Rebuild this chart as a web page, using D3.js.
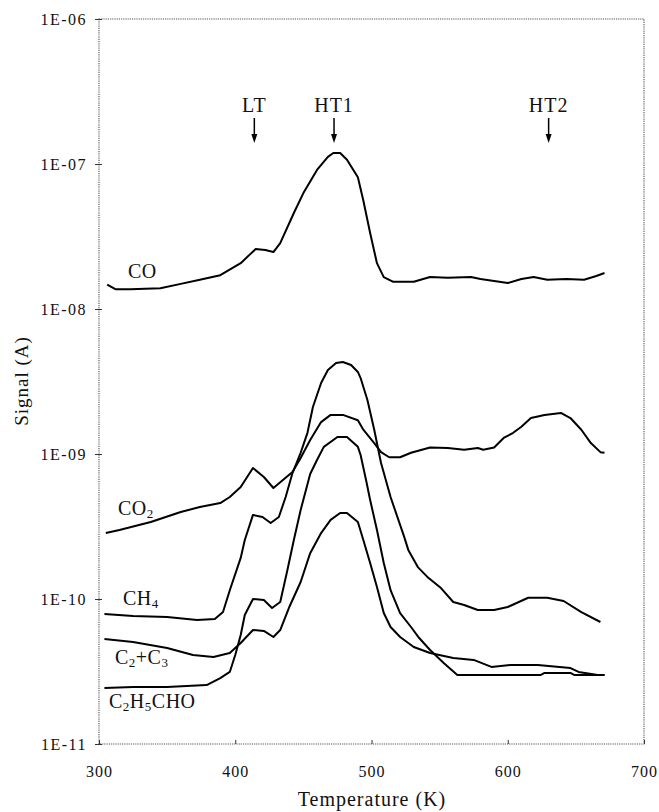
<!DOCTYPE html>
<html>
    <head>
        <title>TPD signals</title>
        <style>
            body { margin: 0; background: #fff; }
            text { font-family: "Liberation Serif", "Times New Roman", serif; fill: #111; }
        </style>
    </head>

    <body>
        <div id="chart"></div>

        <script src="https://cdn.jsdelivr.net/npm/d3@7/dist/d3.min.js"></script>
        <script>
            // temperature (K) / signal (A)
            var coT = [306, 312, 323, 345, 360, 374, 389, 404, 411, 415, 422, 428, 433, 443, 450, 460, 468, 472, 477, 482, 490, 494, 499, 504, 509, 516, 531, 543, 556, 573, 580, 600, 610, 619, 629, 643, 656, 665, 671];
            var coS = [1.47e-8, 1.37e-8, 1.37e-8, 1.39e-8, 1.49e-8, 1.59e-8, 1.71e-8, 2.07e-8, 2.39e-8, 2.59e-8, 2.55e-8, 2.47e-8, 2.85e-8, 4.59e-8, 6.3e-8, 9.1e-8, 1.12e-7, 1.19e-7, 1.19e-7, 1.07e-7, 8.1e-8, 5.6e-8, 3.34e-8, 2.07e-8, 1.66e-8, 1.54e-8, 1.54e-8, 1.66e-8, 1.64e-8, 1.66e-8, 1.61e-8, 1.51e-8, 1.61e-8, 1.66e-8, 1.59e-8, 1.61e-8, 1.59e-8, 1.69e-8, 1.77e-8];

            var co2T = [305, 315, 338, 360, 374, 389, 396, 404, 413, 421, 428, 435, 442, 448, 455, 463, 470, 479, 490, 494, 502, 507, 513, 521, 529, 543, 556, 568, 578, 582, 590, 597, 604, 610, 617, 627, 639, 646, 654, 661, 668, 671];
            var co2S = [2.85e-10, 2.99e-10, 3.4e-10, 3.98e-10, 4.31e-10, 4.59e-10, 5.05e-10, 5.92e-10, 8.0e-10, 6.94e-10, 5.83e-10, 6.62e-10, 7.51e-10, 9.38e-10, 1.25e-9, 1.66e-9, 1.86e-9, 1.86e-9, 1.71e-9, 1.47e-9, 1.19e-9, 1.03e-9, 9.5e-10, 9.5e-10, 1.02e-9, 1.11e-9, 1.10e-9, 1.07e-9, 1.10e-9, 1.07e-9, 1.11e-9, 1.29e-9, 1.40e-9, 1.54e-9, 1.77e-9, 1.86e-9, 1.92e-9, 1.77e-9, 1.47e-9, 1.19e-9, 1.03e-9, 1.02e-9];

            var ch4T = [304, 325, 350, 372, 385, 391, 396, 404, 407, 413, 420, 426, 432, 437, 442, 448, 453, 457, 463, 468, 474, 479, 485, 490, 492, 497, 502, 507, 514, 524, 527, 534, 541, 551, 560, 568, 578, 590, 600, 615, 629, 641, 654, 668];
            var ch4S = [7.88e-11, 7.63e-11, 7.51e-11, 7.16e-11, 7.28e-11, 8.13e-11, 1.15e-10, 1.92e-10, 2.55e-10, 3.8e-10, 3.68e-10, 3.34e-10, 3.68e-10, 5.05e-10, 7.39e-10, 1.02e-9, 1.40e-9, 2.11e-9, 3.09e-9, 3.8e-9, 4.24e-9, 4.31e-9, 4.11e-9, 3.68e-9, 3.34e-9, 2.36e-9, 1.47e-9, 8.67e-10, 5.05e-10, 2.68e-10, 2.18e-10, 1.66e-10, 1.42e-10, 1.19e-10, 9.53e-11, 9.09e-11, 8.4e-11, 8.4e-11, 8.81e-11, 1.02e-10, 1.02e-10, 9.69e-11, 8.13e-11, 6.94e-11];

            var c23T = [304, 325, 350, 369, 384, 396, 404, 413, 421, 428, 433, 440, 448, 455, 463, 470, 477, 482, 490, 494, 499, 504, 509, 514, 521, 531, 543, 560, 575, 588, 602, 622, 646, 652, 666, 671];
            var c23S = [5.30e-11, 5.05e-11, 4.59e-11, 4.11e-11, 3.98e-11, 4.24e-11, 4.97e-11, 6.11e-11, 6.02e-11, 5.47e-11, 6.11e-11, 8.95e-11, 1.31e-10, 2.07e-10, 2.85e-10, 3.51e-10, 3.92e-10, 3.92e-10, 3.4e-10, 2.55e-10, 1.77e-10, 1.21e-10, 8.0e-11, 6.41e-11, 5.47e-11, 4.67e-11, 4.24e-11, 3.92e-11, 3.80e-11, 3.40e-11, 3.51e-11, 3.51e-11, 3.34e-11, 3.14e-11, 2.99e-11, 2.99e-11];

            var c2h5T = [304, 325, 350, 379, 389, 396, 400, 404, 407, 413, 421, 427, 433, 438, 443, 448, 455, 460, 465, 475, 482, 490, 492, 496, 499, 504, 509, 514, 521, 529, 535, 543, 553, 563, 624, 627, 646, 649, 671];
            var c2h5S = [2.43e-11, 2.47e-11, 2.47e-11, 2.55e-11, 2.85e-11, 3.14e-11, 4.11e-11, 5.64e-11, 7.76e-11, 1.0e-10, 9.84e-11, 8.67e-11, 9.53e-11, 1.54e-10, 2.55e-10, 4.11e-10, 7.28e-10, 9.09e-10, 1.12e-9, 1.31e-9, 1.31e-9, 1.12e-9, 9.84e-10, 6.62e-10, 4.82e-10, 2.99e-10, 1.77e-10, 1.15e-10, 8.0e-11, 6.41e-11, 5.38e-11, 4.45e-11, 3.62e-11, 2.99e-11, 2.99e-11, 3.09e-11, 3.09e-11, 2.99e-11, 2.99e-11];

            var xTicks = [300, 400, 500, 600, 700];
            var yTicks = [1e-11, 1e-10, 1e-9, 1e-8, 1e-7, 1e-6];
            var yTickLabels = ["1E-11", "1E-10", "1E-09", "1E-08", "1E-07", "1E-06"];

            var peakNames = ["LT", "HT1", "HT2"];
            var peakTemps = [414, 472.5, 630];

            function drawChart(div) {
                var w = 659, h = 812;
                var pLeft = 99, pRight = 644, pTop = 19, pBottom = 744;
                var serif = '"Liberation Serif", "Times New Roman", serif';

                var svg = div.append("svg")
                    .attr("width", w)
                    .attr("height", h);

                var x = d3.scaleLinear().domain([300, 700]).range([pLeft, pRight]);
                var y = d3.scaleLog().domain([1e-11, 1e-6]).range([pBottom, pTop]);

                // frame (scanned look: fine dotted grey)
                svg.append("rect")
                    .attr("x", pLeft).attr("y", pTop)
                    .attr("width", pRight - pLeft).attr("height", pBottom - pTop)
                    .style("fill", "none")
                    .style("stroke", "#555")
                    .style("stroke-width", 1.1)
                    .style("stroke-dasharray", "1.2,1");

                var yAxis = svg.append("g")
                    .attr("transform", "translate(" + pLeft + ",0)")
                    .call(d3.axisLeft(y).tickValues(yTicks).tickSize(4).tickPadding(8)
                        .tickFormat(function(d, i) { return yTickLabels[i]; }));
                yAxis.select(".domain").remove();
                yAxis.selectAll("line").attr("x2", -4).attr("x1", 3).style("stroke", "#333");
                yAxis.selectAll("text")
                    .attr("dy", "0.35em")
                    .style("font-family", serif)
                    .style("font-size", "16px")
                    .style("letter-spacing", "1.5px")
                    .style("fill", "#111");

                var xAxis = svg.append("g")
                    .attr("transform", "translate(0," + pBottom + ")")
                    .call(d3.axisBottom(x).tickValues(xTicks).tickSize(-4)
                        .tickFormat(d3.format("d")));
                xAxis.select(".domain").remove();
                xAxis.selectAll("line").style("stroke", "#333");
                xAxis.selectAll("text")
                    .attr("y", 33).attr("dy", null)
                    .style("font-family", serif)
                    .style("font-size", "16px")
                    .style("letter-spacing", "1px")
                    .style("fill", "#111");

                svg.append("text")
                    .attr("x", 372).attr("y", 806)
                    .attr("text-anchor", "middle")
                    .style("font-size", "20px")
                    .style("letter-spacing", "1px")
                    .text("Temperature (K)");

                svg.append("text")
                    .attr("transform", "translate(28,381) rotate(-90)")
                    .attr("text-anchor", "middle")
                    .style("font-size", "19px")
                    .style("letter-spacing", "1px")
                    .text("Signal (A)");

                // curves
                var series = [
                    { t: coT, s: coS },
                    { t: co2T, s: co2S },
                    { t: ch4T, s: ch4S },
                    { t: c23T, s: c23S },
                    { t: c2h5T, s: c2h5S }
                ];

                var line = d3.line()
                    .x(function(d) { return x(d[0]); })
                    .y(function(d) { return y(d[1]); });

                svg.selectAll(".curve")
                    .data(series)
                    .enter().append("path")
                        .attr("class", "curve")
                        .attr("d", function(d) { return line(d3.zip(d.t, d.s)); })
                        .style("fill", "none")
                        .style("stroke", "#000")
                        .style("stroke-width", 2)
                        .style("stroke-linejoin", "round");

                // peak markers
                var marks = svg.selectAll(".peak")
                    .data(peakNames)
                    .enter().append("g")
                        .attr("class", "peak")
                        .attr("transform", function(d, i) { return "translate(" + x(peakTemps[i]) + ",0)"; });
                marks.append("text")
                    .attr("y", 112)
                    .attr("text-anchor", "middle")
                    .style("font-size", "20px")
                    .style("letter-spacing", "1px")
                    .text(function(d) { return d; });
                marks.append("line")
                    .attr("y1", 118).attr("y2", 136)
                    .style("stroke", "#000").style("stroke-width", 1.5);
                marks.append("path")
                    .attr("d", "M-3,134 L3,134 L0,143 Z")
                    .style("fill", "#000");

                // curve labels with subscripts
                function label(xp, yp, parts) {
                    var t = svg.append("text")
                        .attr("x", xp).attr("y", yp)
                        .style("font-size", "20px")
                        .style("letter-spacing", "0.5px");
                    var shift = 0;
                    parts.forEach(function(p) {
                        var sub = p.charAt(0) === "_";
                        var dy = (sub ? 3 : 0) - shift;
                        shift = sub ? 3 : 0;
                        t.append("tspan")
                            .attr("dy", dy)
                            .style("font-size", sub ? "13px" : "20px")
                            .text(sub ? p.slice(1) : p);
                    });
                }
                label(128, 278, ["CO"]);
                label(118, 515, ["CO", "_2"]);
                label(123, 605, ["CH", "_4"]);
                label(115, 664, ["C", "_2", "+C", "_3"]);
                label(109, 708, ["C", "_2", "H", "_5", "CHO"]);
            }

            drawChart(d3.select("#chart"));
        </script>
    </body>
</html>
